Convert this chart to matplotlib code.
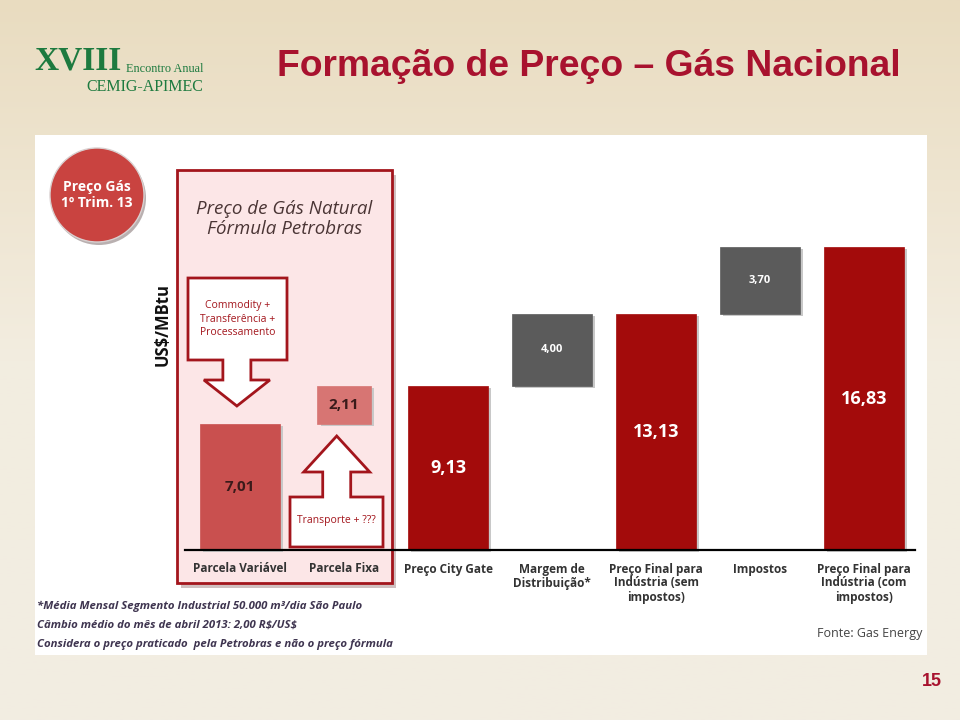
import numpy as np
import matplotlib

matplotlib.use("Agg")
import matplotlib.pyplot as plt
from matplotlib.patches import Rectangle, Circle, Polygon
from matplotlib.colors import LinearSegmentedColormap

categories = [
    "Parcela Variável",
    "Parcela Fixa",
    "Preço City Gate",
    "Margem de\nDistribuição*",
    "Preço Final para\nIndústria (sem\nimpostos)",
    "Impostos",
    "Preço Final para\nIndústria (com\nimpostos)",
]
values = [7.01, 2.11, 9.13, 4.00, 13.13, 3.70, 16.83]
labels = ["7,01", "2,11", "9,13", "4,00", "13,13", "3,70", "16,83"]
# "total" bars start at zero, "step" bars float on the running total
kinds = ["total", "step", "total", "step", "total", "step", "total"]

footnotes = [
    "*Média Mensal Segmento Industrial 50.000 m³/dia São Paulo",
    "Câmbio médio do mês de abril 2013: 2,00 R\\$/US\\$",
    "Considera o preço praticado  pela Petrobras e não o preço fórmula",
]

RED = "#a30b0b"
CRIMSON = "#a8122e"
GREEN = "#1d7a3f"
FONT = ["Open Sans", "DejaVu Sans"]

W, H = 960, 720
fig = plt.figure(figsize=(9.6, 7.2), dpi=100)


def px(x, y):
    # pixel position (from top-left) -> inches for dpi_scale_trans
    return (x / 100.0, (H - y) / 100.0)


# slide background
bg = fig.add_axes([0, 0, 1, 1], zorder=-10)
grad = np.linspace(0, 1, 256).reshape(-1, 1)
cmap = LinearSegmentedColormap.from_list("bg", ["#e9dcc0", "#f3ede0", "#f2ede2"])
bg.imshow(grad, aspect="auto", cmap=cmap, extent=[0, 1, 0, 1], origin="upper")
bg.set_xlim(0, 1)
bg.set_ylim(0, 1)
bg.axis("off")

# white chart panel
fig.patches.append(Rectangle(px(35, 655), 892 / 100, 520 / 100, transform=fig.dpi_scale_trans,
                             facecolor="white", edgecolor="none", zorder=-5))

# header
fig.text(277 / W, 1 - 67 / H, "Formação de Preço – Gás Nacional", color=CRIMSON,
         fontsize=26.8, fontweight="bold", family="Liberation Sans", va="center", ha="left")
fig.text(34 / W, 1 - 61 / H, "XVIII", color=GREEN, fontsize=24, fontweight="bold",
         family="Liberation Serif", va="center", ha="left")
fig.text(203 / W, 1 - 69 / H, "Encontro Anual", color=GREEN, fontsize=8.8,
         family="Liberation Serif", va="center", ha="right")
fig.text(203 / W, 1 - 87 / H, "CEMIG-APIMEC", color=GREEN, fontsize=11.5,
         family="Liberation Serif", va="center", ha="right")
fig.text(942 / W, 1 - 681 / H, "15", color=CRIMSON, fontsize=13, fontweight="bold",
         family="Liberation Sans", va="center", ha="right")

# chart axes: baseline at y=550px, 104 px per category, 18 px per unit
x0_px, unit_x, unit_y = 240, 104.0, 18.0
left_px, right_px, base_px, top_px = 185, 915, 550, 140
ax = fig.add_axes([left_px / W, 1 - base_px / H, (right_px - left_px) / W, (base_px - top_px) / H])
ax.set_facecolor("none")
ax.set_xlim((left_px - x0_px) / unit_x, (right_px - x0_px) / unit_x)
ax.set_ylim(0, (base_px - top_px) / unit_y)

x = np.arange(len(categories))

# pink Petrobras panel (shadow + frame)
pk_x0, pk_x1 = (177 - x0_px) / unit_x, (392 - x0_px) / unit_x
pk_y0, pk_y1 = (base_px - 583) / unit_y, (base_px - 170) / unit_y
ax.add_patch(Rectangle((pk_x0 + 0.04, pk_y0 - 0.25), pk_x1 - pk_x0, pk_y1 - pk_y0,
                       facecolor="#cfc0c0", edgecolor="none", clip_on=False, zorder=0))
ax.add_patch(Rectangle((pk_x0, pk_y0), pk_x1 - pk_x0, pk_y1 - pk_y0, facecolor="#fce6e7",
                       edgecolor="#a3151c", lw=2, clip_on=False, zorder=1))
ax.text((pk_x0 + pk_x1) / 2, (base_px - 219) / unit_y, "Preço de Gás Natural\nFórmula Petrobras",
        ha="center", va="center", fontsize=13.5, style="italic", color="#4a3535",
        family=FONT, linespacing=1.2, zorder=3)

# waterfall bars
running = 0.0
for i, (v, k) in enumerate(zip(values, kinds)):
    if k == "total":
        bottom = 0.0
        running = v
    else:
        bottom = running
        running = running + v
    if i == 0:
        color, width, tcol, fs = "#c9504f", 0.77, "#3a1a1a", 11
    elif k == "total":
        color, width, tcol, fs = RED, 0.77, "white", 13
    elif i == 1:
        color, width, tcol, fs = "#d77573", 0.51, "#3a1a1a", 11
    else:
        color, width, tcol, fs = "#5b5b5b", 0.77, "white", 8
    # soft shadow
    ax.bar(x[i] + 0.03, v, width, bottom=bottom - 0.12, color="#c8c8c8", zorder=3, clip_on=False)
    ax.bar(x[i], v, width, bottom=bottom, color=color, zorder=4,
           edgecolor=color, linewidth=0.5)
    ax.text(x[i], bottom + v / 2, labels[i], ha="center", va="center", color=tcol,
            fontsize=fs, fontweight="bold", family=FONT, zorder=6)

# baseline
ax.axhline(0, color="black", lw=1.6, zorder=5, clip_on=False)


# callout arrows
def arrow_shape(cx, bx0, bx1, b_far, b_near, shaft_end, tip, sw, hw):
    pts = [(bx0, b_far), (bx1, b_far), (bx1, b_near), (cx + sw, b_near),
           (cx + sw, shaft_end), (cx + hw, shaft_end), (cx, tip), (cx - hw, shaft_end),
           (cx - sw, shaft_end), (cx - sw, b_near), (bx0, b_near)]
    ax.add_patch(Polygon(pts, closed=True, facecolor="white", edgecolor="#a3151c", lw=2,
                         zorder=3, clip_on=False, joinstyle="miter"))


sw, hw = 14 / unit_x, 33 / unit_x
cx0 = x[0] - 0.03
arrow_shape(cx0, (188 - x0_px) / unit_x, (287 - x0_px) / unit_x, (base_px - 278) / unit_y,
            (base_px - 360) / unit_y, (base_px - 380) / unit_y, (base_px - 406) / unit_y, sw, hw)
ax.text((237.5 - x0_px) / unit_x, (base_px - 319) / unit_y,
        "Commodity +\nTransferência +\nProcessamento", ha="center", va="center",
        fontsize=7.5, color="#a3151c", family=FONT, linespacing=1.3, zorder=4)

cx1 = x[1] - 0.07
bx0, bx1 = (290 - x0_px) / unit_x, (383 - x0_px) / unit_x
btop, bbot = (base_px - 497) / unit_y, (base_px - 547) / unit_y
arrow_shape(cx1, bx0, bx1, bbot, btop, (base_px - 472) / unit_y, (base_px - 436) / unit_y, sw, hw)
ax.text((bx0 + bx1) / 2, (btop + bbot) / 2 + 0.1, "Transporte + ???", ha="center", va="center",
        fontsize=7.5, color="#a3151c", family=FONT, zorder=4)

# axes styling
ax.set_xticks(x)
ax.set_xticklabels(categories, fontsize=8.5, color="#333333", family=FONT,
                   fontweight="bold", linespacing=1.1)
ax.tick_params(axis="x", length=0, pad=9)
ax.set_yticks([])
for s in ax.spines.values():
    s.set_visible(False)

fig.text(163 / W, 1 - 325 / H, "US\\$/MBtu", rotation=90, ha="center", va="center",
         fontsize=12, fontweight="bold", color="#111111", family=FONT)

# "Preço Gás" badge
fig.patches.append(Circle(px(99, 198), 0.47, transform=fig.dpi_scale_trans,
                          facecolor="#b9b0b0", edgecolor="none", zorder=1))
fig.patches.append(Circle(px(97, 195), 0.47, transform=fig.dpi_scale_trans,
                          facecolor="#c94340", edgecolor="#d9d0d0", lw=1, zorder=2))
fig.text(97 / W, 1 - 195 / H, "Preço Gás\n1º Trim. 13", ha="center", va="center",
         color="white", fontsize=10, fontweight="bold", family=FONT, linespacing=1.2, zorder=3)

# footnotes and source
for j, t in enumerate(footnotes):
    fig.text(37 / W, 1 - (606 + 19.5 * j) / H, t, ha="left", va="center", fontsize=8.2,
             fontweight="bold", style="italic", color="#3f3550", family=FONT)
fig.text(922 / W, 1 - 634 / H, "Fonte: Gas Energy", ha="right", va="center", fontsize=9,
         color="#444444", family=FONT)

fig.savefig("out.png", dpi=100)
